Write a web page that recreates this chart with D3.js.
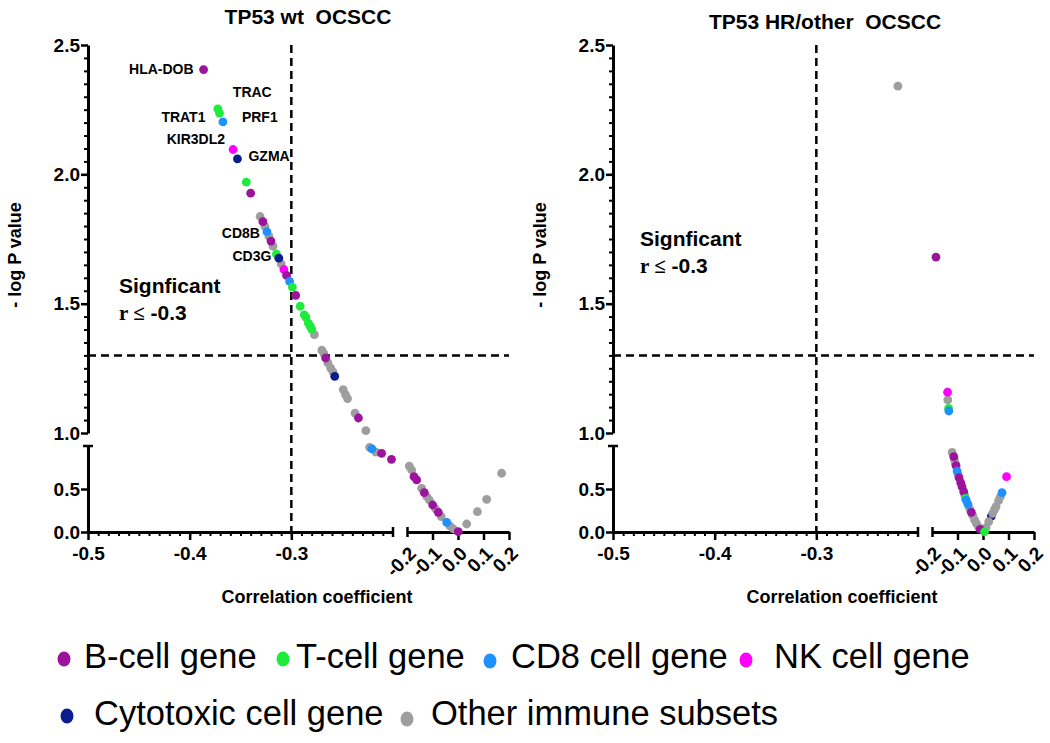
<!DOCTYPE html>
<meta charset="utf-8">
<style>
  body { margin: 0; background: #fff; }
  svg { font-family: "Liberation Sans", Arial, sans-serif; }
  .axis path, .axis line { stroke: #000; }
  .axis path { stroke-width: 3px; }
  .axis line { stroke-width: 2.5px; }
  .axis text { font-size: 19px; font-weight: bold; fill: #000; font-family: "Liberation Sans", Arial, sans-serif; }
  .minor line { stroke-width: 2px; }
  .cutoff { stroke: #000; stroke-width: 2.5px; stroke-dasharray: 8,5; fill: none; }
</style>
<svg width="1050" height="743"></svg>
<script src="https://d3js.org/d3.v7.min.js"></script>
<script>

// categories of genes
var groups = ["B", "T", "CD8", "NK", "Cyto", "Other"];
var groupNames = ["B-cell gene", "T-cell gene", "CD8 cell gene", "NK cell gene", "Cytotoxic cell gene", "Other immune subsets"];
var groupColors = ["#9c139c", "#1eeb3c", "#1e90ff", "#ff00ff", "#0b1d8e", "#9e9e9e"];

// tick labels
var yTicksUpper = [1.0, 1.5, 2.0, 2.5];
var yTicksLower = [0.0, 0.5];
var xTicksLeft = [-0.5, -0.4, -0.3];
var xTicksRight = [-0.2, -0.1, 0.0, 0.1, 0.2];

// [correlation coefficient, -log P, group]
var wtPoints = [
  [-0.3863, 2.405, "B"], [-0.3723, 2.253, "T"], [-0.3707, 2.237, "T"], [-0.3673, 2.203, "CD8"],
  [-0.3573, 2.096, "NK"], [-0.353, 2.060, "Cyto"], [-0.3443, 1.970, "T"], [-0.340, 1.927, "B"],
  [-0.3307, 1.837, "Other"], [-0.328, 1.817, "B"], [-0.326, 1.799, "Other"], [-0.324, 1.778, "CD8"],
  [-0.322, 1.760, "Other"], [-0.320, 1.742, "B"], [-0.318, 1.722, "Other"], [-0.3147, 1.692, "T"],
  [-0.3123, 1.676, "Cyto"], [-0.310, 1.654, "Other"], [-0.3073, 1.632, "NK"], [-0.3047, 1.609, "B"],
  [-0.3017, 1.586, "CD8"], [-0.299, 1.564, "T"], [-0.2957, 1.532, "B"], [-0.2913, 1.490, "T"],
  [-0.2873, 1.457, "T"], [-0.2857, 1.448, "T"], [-0.2833, 1.425, "T"], [-0.2813, 1.412, "T"],
  [-0.280, 1.402, "T"], [-0.2773, 1.380, "Other"], [-0.270, 1.320, "Other"], [-0.268, 1.307, "Other"],
  [-0.2663, 1.290, "B"], [-0.264, 1.271, "Other"], [-0.2613, 1.251, "Other"], [-0.259, 1.236, "Other"],
  [-0.2573, 1.219, "Cyto"], [-0.249, 1.168, "Other"], [-0.2467, 1.148, "Other"], [-0.2447, 1.133, "Other"],
  [-0.2373, 1.077, "Other"], [-0.234, 1.058, "B"], [-0.2267, 1.009, "Other"],
  [-0.223, 0.985, "Other"], [-0.2207, 0.966, "CD8"], [-0.2167, 0.928, "Other"], [-0.2112, 0.915, "B"],
  [-0.2015, 0.845, "B"],
  [-0.191, 0.767, "Other"], [-0.1816, 0.721, "Other"], [-0.1725, 0.643, "B"], [-0.162, 0.605, "B"],
  [-0.1424, 0.508, "Other"], [-0.132, 0.457, "B"], [-0.122, 0.410, "Other"], [-0.1125, 0.372, "Other"],
  [-0.0992, 0.314, "B"], [-0.088, 0.270, "Other"], [-0.0773, 0.229, "B"], [-0.066, 0.180, "Other"],
  [-0.0443, 0.113, "CD8"], [-0.032, 0.070, "Other"], [-0.018, 0.035, "Other"], [0.001, 0.005, "B"],
  [0.034, 0.093, "Other"], [0.076, 0.236, "Other"], [0.1125, 0.380, "Other"], [0.171, 0.683, "Other"]
];

var hrPoints = [
  [-0.2198, 2.341, "Other"], [-0.1845, 1.680, "B"], [-0.139, 1.158, "NK"], [-0.138, 1.128, "Other"],
  [-0.135, 1.095, "T"], [-0.134, 1.085, "CD8"],
  [-0.121, 0.927, "Other"], [-0.1146, 0.876, "B"], [-0.112, 0.840, "Other"], [-0.109, 0.800, "Other"],
  [-0.1056, 0.771, "B"], [-0.1017, 0.709, "CD8"], [-0.098, 0.670, "Other"], [-0.094, 0.631, "B"],
  [-0.0874, 0.573, "B"], [-0.0823, 0.527, "B"], [-0.0757, 0.469, "B"], [-0.072, 0.430, "Other"],
  [-0.069, 0.392, "T"], [-0.066, 0.370, "CD8"], [-0.059, 0.322, "CD8"], [-0.052, 0.270, "Other"],
  [-0.0458, 0.229, "B"], [-0.040, 0.190, "Other"], [-0.033, 0.140, "Other"], [-0.026, 0.100, "Other"],
  [-0.018, 0.060, "Other"], [-0.011, 0.031, "B"], [0.006, 0.003, "T"], [0.033, 0.185, "Cyto"],
  [0.012, 0.050, "Other"], [0.0225, 0.120, "Other"], [0.038, 0.217, "Other"], [0.045, 0.260, "Other"],
  [0.051, 0.294, "Other"], [0.061, 0.364, "Other"], [0.068, 0.410, "Other"], [0.0746, 0.457, "CD8"],
  [0.0924, 0.643, "NK"]
];

// labelled genes in the TP53 wt panel (index into wtPoints)
var wtGenes = ["HLA-DOB", "TRAC", "TRAT1", "PRF1", "KIR3DL2", "GZMA", "CD8B", "CD3G"];
var wtGeneIdx = [0, 1, 2, 3, 4, 5, 11, 15];

var svg = d3.select("svg");
var color = d3.scaleOrdinal(groups, groupColors);
var fmt = function(d) { return d.toFixed(1); };

// broken axis scales (shared by both panels, panel origin = y axis)
var xL = d3.scaleLinear().domain([-0.5, -0.2]).range([0, 305]);
var xR = d3.scaleLinear().domain([-0.2, 0.2]).range([319, 421]);
var yU = d3.scaleLinear().domain([1, 2.5]).range([433, 45]);
var yD = d3.scaleLinear().domain([0, 1]).range([532, 446]);
var px = function(r) { return r < -0.2 ? xL(r) : xR(r); };
var py = function(v) { return v >= 1 ? yU(v) : yD(v); };

// label placement for the gene names [dx, dy, anchor]
var geneOffsets = [[-10, 0, "end"], [15, -17, "start"], [-14, 4, "end"], [19, -5, "start"],
                   [-8, -10, "end"], [11, -3, "start"], [-7, 1, "end"], [-5, 2, "end"]];

var panels = [
  {x0: 88, title: "TP53 wt\u00a0 OCSCC", titleX: 220, titleY: 24, pts: wtPoints, sigY: 293, sigX: 31, genes: true, under: []},
  {x0: 613, title: "TP53 HR/other\u00a0 OCSCC", titleX: 212, titleY: 29, pts: hrPoints, sigY: 246, sigX: 27, genes: false, under: ["Cyto"]}
];

panels.forEach(function(p) {
  var g = svg.append("g").attr("transform", "translate(" + p.x0 + ",0)");

  // y axis, upper part
  g.append("g").attr("class", "axis minor")
    .call(d3.axisLeft(yU).tickValues(d3.range(1.05, 2.46, 0.05)).tickSize(4).tickSizeOuter(0).tickFormat(""))
    .select(".domain").remove();
  g.append("g").attr("class", "axis")
    .call(d3.axisLeft(yU).tickValues(yTicksUpper).tickSize(7).tickSizeOuter(0).tickPadding(1).tickFormat(fmt));
  // y axis, lower part
  g.append("g").attr("class", "axis")
    .call(d3.axisLeft(yD).tickValues(yTicksLower).tickSize(7).tickSizeOuter(0).tickPadding(1).tickFormat(fmt));
  g.append("line").attr("x1", -5).attr("x2", 5).attr("y1", 446).attr("y2", 446)
    .attr("stroke", "#000").attr("stroke-width", 2.5);

  // x axis, left part
  var xa = g.append("g").attr("transform", "translate(0,532)");
  xa.append("g").attr("class", "axis minor")
    .call(d3.axisBottom(xL).tickValues(d3.range(-0.49, -0.2, 0.01)).tickSize(4).tickSizeOuter(0).tickFormat(""))
    .select(".domain").remove();
  xa.append("g").attr("class", "axis")
    .call(d3.axisBottom(xL).tickValues(xTicksLeft).tickSize(8).tickSizeOuter(0).tickPadding(7).tickFormat(fmt));
  xa.append("line").attr("x1", xL(-0.2)).attr("x2", xL(-0.2)).attr("y1", -5).attr("y2", 5)
    .attr("stroke", "#000").attr("stroke-width", 2.5);

  // x axis, right part
  var xr = xa.append("g").attr("class", "axis")
    .call(d3.axisBottom(xR).tickValues(xTicksRight).tickSize(8).tickSizeOuter(0).tickFormat(fmt));
  xr.select(".tick line").attr("y1", -5).attr("y2", 5);
  xr.selectAll(".tick text")
    .attr("x", 0).attr("y", 0).attr("dy", "0.35em")
    .attr("text-anchor", "end")
    .attr("transform", "translate(5,18) rotate(-45)");

  // cut-off lines
  g.append("line").attr("class", "cutoff")
    .attr("x1", xL(-0.3)).attr("x2", xL(-0.3)).attr("y1", 45).attr("y2", 532);
  g.append("line").attr("class", "cutoff")
    .attr("x1", 0).attr("x2", 421).attr("y1", yU(1.3)).attr("y2", yU(1.3));

  // points: a few hidden ones, then others, then the coloured genes on top
  var rank = function(d) { return p.under.indexOf(d[2]) >= 0 ? 0 : (d[2] === "Other" ? 1 : 2); };
  var ordered = [0, 1, 2].reduce(function(acc, k) {
    return acc.concat(p.pts.filter(function(d) { return rank(d) === k; }));
  }, []);
  g.selectAll(".dot").data(ordered).enter().append("circle")
    .attr("class", "dot")
    .attr("cx", function(d) { return px(d[0]); })
    .attr("cy", function(d) { return py(d[1]); })
    .attr("r", 4.4)
    .attr("fill", function(d) { return color(d[2]); });

  // titles
  g.append("text").attr("x", p.titleX).attr("y", p.titleY)
    .attr("text-anchor", "middle").attr("font-size", 21).attr("font-weight", "bold")
    .text(p.title);
  g.append("text").attr("transform", "translate(-67,255) rotate(-90)")
    .attr("text-anchor", "middle").attr("font-size", 18).attr("font-weight", "bold")
    .text("- log P value");
  g.append("text").attr("x", 229).attr("y", 603)
    .attr("text-anchor", "middle").attr("font-size", 18).attr("font-weight", "bold")
    .text("Correlation coefficient");

  g.append("text").attr("x", p.sigX).attr("y", p.sigY)
    .attr("font-size", 21).attr("font-weight", "bold").text("Signficant");
  var rt = g.append("text").attr("x", p.sigX).attr("y", p.sigY + 27)
    .attr("font-size", 21).attr("font-weight", "bold");
  rt.append("tspan").attr("font-family", "'Liberation Serif', 'Times New Roman', serif").text("r \u2264");
  rt.append("tspan").text(" -0.3");

  if (p.genes) {
    wtGenes.forEach(function(name, i) {
      var d = p.pts[wtGeneIdx[i]], o = geneOffsets[i];
      g.append("text")
        .attr("x", px(d[0]) + o[0]).attr("y", py(d[1]) + o[1])
        .attr("dy", "0.35em").attr("text-anchor", o[2])
        .attr("font-size", 14).attr("font-weight", "bold")
        .text(name);
    });
  }
});

// legend
var legendPos = [[64, 659, 84], [283, 659, 296], [490, 661, 511], [746, 660, 774], [67, 716, 94], [407, 719, 431]];
var legend = svg.append("g");
groups.forEach(function(k, i) {
  var lp = legendPos[i];
  var row = i < 4 ? 668 : 725;
  legend.append("ellipse").attr("cx", lp[0]).attr("cy", lp[1]).attr("rx", 6.5).attr("ry", 7.5)
    .attr("fill", color(k));
  legend.append("text").attr("x", lp[2]).attr("y", row)
    .attr("font-size", 34.5).text(groupNames[i]);
});

</script>
